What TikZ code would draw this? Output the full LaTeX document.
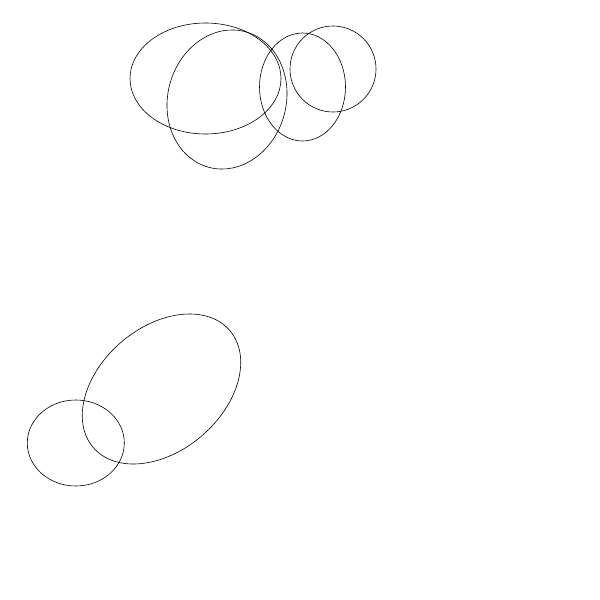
\documentclass[tikz,border=0pt]{standalone}
\begin{document}
\begin{tikzpicture}[x=1pt,y=-1pt,line width=0.6pt,
  oval/.style={draw=black}]
\useasboundingbox (0,0) rectangle (600,600);
\draw[oval] (205.5,78.5) ellipse [x radius=75.5, y radius=55.5];
\draw[oval] (227,99.5) ellipse [x radius=59.2, y radius=70.2, rotate=-15];
\draw[oval] (302.5,87) ellipse [x radius=43, y radius=54];
\draw[oval] (333,69) ellipse [x radius=43, y radius=43];
\draw[oval] (161.5,389) ellipse [x radius=89.9, y radius=61.8, rotate=40.6];
\draw[oval] (75.8,443) ellipse [x radius=48.5, y radius=43];
\end{tikzpicture}
\end{document}
